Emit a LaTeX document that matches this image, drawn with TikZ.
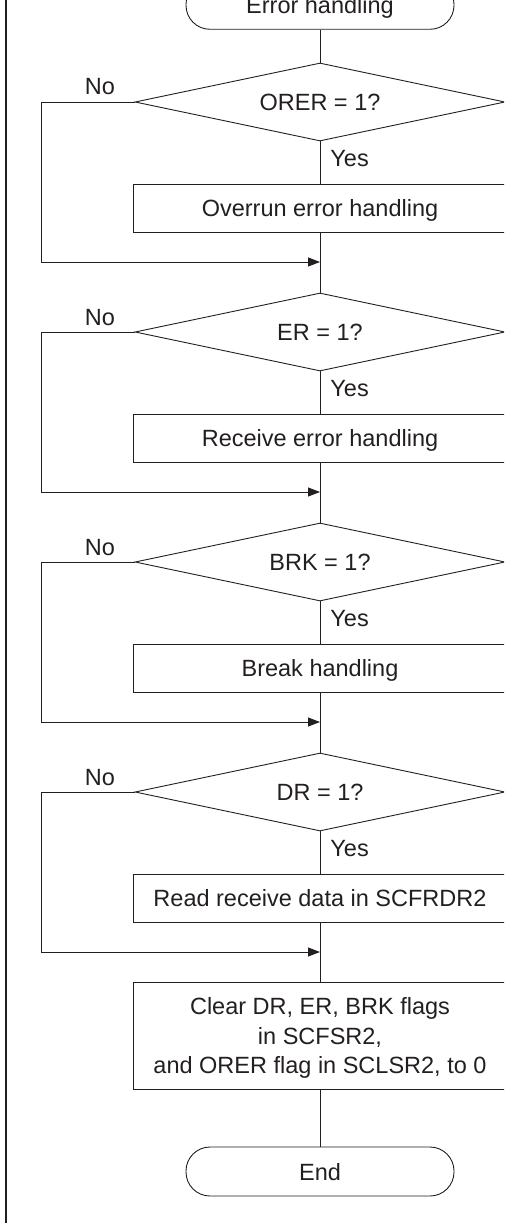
\documentclass[tikz,border=0pt]{standalone}
\usepackage{fontspec}
\setmainfont{Liberation Sans}
\usetikzlibrary{shapes.geometric,arrows.meta}

\definecolor{ink}{RGB}{35,31,32}

\tikzset{
  term/.style={draw, rounded corners=24pt, minimum width=268pt, minimum height=49pt, inner sep=0pt},
  decision/.style={draw, diamond, aspect=4.74, minimum width=370pt, minimum height=78pt, inner sep=0pt},
  action/.style={draw, rectangle, minimum width=374pt, minimum height=48pt, inner sep=0pt, align=center},
  flow/.style={-{Triangle[length=12pt,width=9pt]}},
  lbl/.style={inner sep=0pt}
}

\begin{document}
\begin{tikzpicture}[x=1pt, y=-1pt, line width=0.9pt, draw=ink, color=ink,
    every node/.style={font=\fontsize{23.5}{29.5}\selectfont, text height=17pt, text depth=0pt}]

    \clip (0,0) rectangle (504,1223);
    % frame edge
    \draw[line width=2pt] (5.5,0) -- (5.5,1223);

    % Start
    \node[term] (start) at (320,4.8) {Error handling};
    \coordinate (m0) at (start.south);

    % Four flag checks
    \foreach \i/\cond/\act [count=\k from 0] in {
        1/ORER = 1?/Overrun error handling,
        2/ER = 1?/Receive error handling,
        3/BRK = 1?/Break handling,
        4/DR = 1?/Read receive data in SCFRDR2} {
        \pgfmathsetmacro\yo{230*\k}
        \pgfmathtruncatemacro\prev{\i-1}
        \node[decision] (d\i) at (320,{102+\yo}) {\cond};
        \node[action] (b\i) at (320,{208+\yo}) {\act};
        \coordinate (m\i) at (320,{262+\yo});
        \node[lbl, anchor=base] (no\i) at (100,{95+\yo}) {No};
        \node[lbl, anchor=base west] (yes\i) at (330,{166+\yo}) {Yes};
        \draw (m\prev) -- (d\i.north);
        \draw (d\i.south) -- (b\i.north);
        \draw (b\i.south) -- (m\i);
        \draw[flow] (d\i.west) -- ++(-93,0) |- (m\i);
    }

    % Clear flags and end
    \node[action, minimum height=107pt, text height=76pt] (clear) at (320,1035.5)
        {Clear DR, ER, BRK flags\\in SCFSR2,\\and ORER flag in SCLSR2, to 0};
    \node[term] (end) at (320,1171.5) {End};
    \draw (m4) -- (clear.north);
    \draw (clear.south) -- (end.north);

\end{tikzpicture}
\end{document}
